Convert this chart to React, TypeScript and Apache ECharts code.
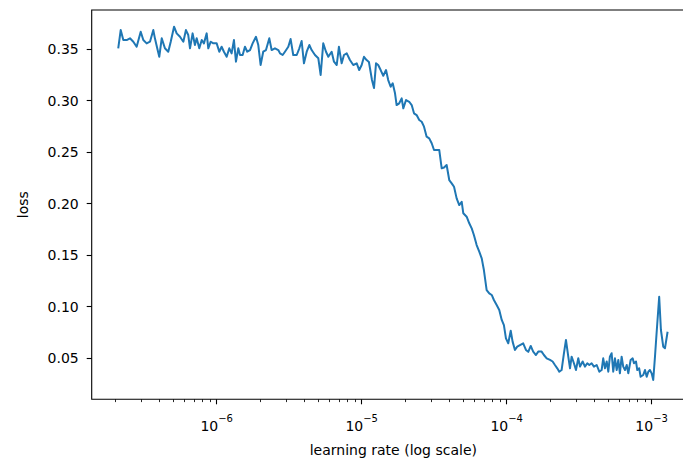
import React, { useEffect, useRef } from "react";
import * as echarts from "echarts";

// log10(learning rate)
const LOG10_LR = [
  -6.679, -6.662, -6.644, -6.621, -6.598, -6.575, -6.552, -6.524, -6.506, -6.483,
  -6.46, -6.437, -6.426, -6.41, -6.396, -6.379, -6.357, -6.334, -6.317, -6.294,
  -6.276, -6.253, -6.23, -6.212, -6.196, -6.184, -6.166, -6.15, -6.138, -6.12,
  -6.103, -6.088, -6.069, -6.058, -6.041, -6.023, -6.0, -5.982, -5.966, -5.95,
  -5.931, -5.913, -5.897, -5.881, -5.867, -5.851, -5.839, -5.821, -5.805, -5.789,
  -5.77, -5.752, -5.729, -5.713, -5.697, -5.679, -5.66, -5.637, -5.621, -5.598,
  -5.575, -5.563, -5.545, -5.529, -5.506, -5.49, -5.472, -5.448, -5.43, -5.414,
  -5.398, -5.379, -5.361, -5.345, -5.322, -5.299, -5.283, -5.265, -5.246, -5.23,
  -5.207, -5.191, -5.172, -5.157, -5.138, -5.122, -5.103, -5.081, -5.058, -5.034,
  -5.017, -5.0, -4.984, -4.966, -4.95, -4.929, -4.915, -4.901, -4.886, -4.869,
  -4.851, -4.832, -4.817, -4.8, -4.786, -4.77, -4.759, -4.741, -4.724, -4.713,
  -4.694, -4.672, -4.655, -4.639, -4.621, -4.603, -4.586, -4.57, -4.552, -4.534,
  -4.517, -4.501, -4.483, -4.465, -4.448, -4.432, -4.414, -4.396, -4.379, -4.363,
  -4.345, -4.327, -4.31, -4.299, -4.276, -4.258, -4.241, -4.226, -4.207, -4.189,
  -4.172, -4.157, -4.138, -4.12, -4.103, -4.088, -4.069, -4.051, -4.034, -4.019,
  -4.005, -3.989, -3.972, -3.959, -3.943, -3.927, -3.908, -3.886, -3.867, -3.851,
  -3.834, -3.817, -3.798, -3.782, -3.759, -3.743, -3.724, -3.701, -3.683, -3.667,
  -3.651, -3.637, -3.621, -3.605, -3.591, -3.575, -3.563, -3.552, -3.536, -3.522,
  -3.506, -3.494, -3.476, -3.46, -3.444, -3.43, -3.414, -3.398, -3.379, -3.361,
  -3.345, -3.334, -3.322, -3.31, -3.299, -3.288, -3.276, -3.265, -3.253, -3.241,
  -3.23, -3.219, -3.207, -3.196, -3.184, -3.172, -3.161, -3.145, -3.131, -3.122,
  -3.108, -3.099, -3.086, -3.076, -3.058, -3.046, -3.034, -3.023, -3.012, -3.0,
  -2.989, -2.977, -2.966, -2.948, -2.936, -2.92, -2.908, -2.89,
];

const LOSS = [
  0.3507, 0.3684, 0.3587, 0.3587, 0.3604, 0.3571, 0.3522, 0.3668, 0.3587, 0.3555,
  0.3571, 0.3684, 0.3604, 0.3507, 0.3425, 0.3604, 0.3507, 0.3474, 0.3571, 0.3717,
  0.3652, 0.3619, 0.3571, 0.3684, 0.3636, 0.3507, 0.3652, 0.3539, 0.3604, 0.3507,
  0.3587, 0.3555, 0.3652, 0.3507, 0.3571, 0.3555, 0.3555, 0.3474, 0.3522, 0.3474,
  0.3425, 0.3507, 0.3458, 0.3587, 0.3377, 0.3507, 0.3442, 0.3442, 0.3522, 0.3474,
  0.349, 0.3555, 0.3619, 0.3539, 0.3345, 0.3474, 0.349, 0.3604, 0.349, 0.3507,
  0.349, 0.3458, 0.3442, 0.3474, 0.3522, 0.3597, 0.3442, 0.3442, 0.3507, 0.3578,
  0.3361, 0.3474, 0.3539, 0.349, 0.3442, 0.341, 0.3248, 0.3555, 0.3474, 0.3425,
  0.3474, 0.3377, 0.3345, 0.3522, 0.3361, 0.3442, 0.3458, 0.3393, 0.3345, 0.3361,
  0.3296, 0.3345, 0.3425, 0.3393, 0.3374, 0.3199, 0.3121, 0.3361, 0.3345, 0.3296,
  0.324, 0.3296, 0.3199, 0.3134, 0.3167, 0.307, 0.2956, 0.2973, 0.3021, 0.2924,
  0.3005, 0.2988, 0.2956, 0.2876, 0.2859, 0.2811, 0.2794, 0.2746, 0.2649, 0.2633,
  0.2585, 0.252, 0.252, 0.252, 0.2342, 0.235, 0.2374, 0.2228, 0.2196, 0.2163,
  0.205, 0.1985, 0.2017, 0.1905, 0.1872, 0.1808, 0.1759, 0.1694, 0.1597, 0.1532,
  0.1468, 0.1354, 0.116, 0.1128, 0.1112, 0.1063, 0.1015, 0.0966, 0.087, 0.082,
  0.0691, 0.0643, 0.0765, 0.0659, 0.0578, 0.061, 0.0625, 0.0643, 0.0578, 0.056,
  0.0617, 0.0562, 0.0529, 0.0562, 0.0562, 0.0529, 0.0497, 0.0481, 0.0466, 0.0432,
  0.04, 0.0367, 0.0383, 0.0546, 0.0675, 0.0513, 0.04, 0.0513, 0.0449, 0.0383,
  0.0497, 0.0416, 0.0466, 0.0416, 0.0449, 0.0432, 0.0449, 0.0416, 0.0432, 0.0367,
  0.0383, 0.0497, 0.04, 0.0466, 0.0367, 0.0513, 0.0546, 0.0367, 0.0497, 0.0383,
  0.0481, 0.0351, 0.0513, 0.0416, 0.0383, 0.0432, 0.0351, 0.0481, 0.0497, 0.0449,
  0.0466, 0.0383, 0.04, 0.0318, 0.0335, 0.0383, 0.0318, 0.0367, 0.0383, 0.0351,
  0.0286, 0.0513, 0.074, 0.1095, 0.0772, 0.061, 0.0595, 0.0755,
];

const Y_TICKS = [0.05, 0.1, 0.15, 0.2, 0.25, 0.3, 0.35];
const X_DECADES = [-6, -5, -4, -3];
const MINOR_DECADES = [-7, -6, -5, -4];
const MINOR_MULTIPLIERS = [2, 3, 4, 5, 6, 7, 8, 9];

const X_MIN = -6.862;
const X_MAX = -2.701;
const Y_MIN = 0.0099;
const Y_MAX = 0.3879;

const FONT = "DejaVu Sans";

export default function App() {
  const ref = useRef<HTMLDivElement>(null);

  useEffect(() => {
    if (!ref.current) return;
    const chart = echarts.init(ref.current, null, { renderer: "svg" });

    const minorTicks: number[] = [];
    MINOR_DECADES.forEach((d) =>
      MINOR_MULTIPLIERS.forEach((m) => {
        const v = d + Math.log10(m);
        if (v > X_MIN && v < X_MAX) minorTicks.push(v);
      })
    );

    const data = LOG10_LR.map((x, i) => [x, LOSS[i]]);

    chart.setOption({
      animation: false,
      backgroundColor: "#ffffff",
      grid: {
        left: 91.7,
        right: 5,
        top: 10,
        bottom: 64.7,
        show: true,
        borderColor: "#000000",
        borderWidth: 1.1,
        backgroundColor: "transparent",
      },
      xAxis: [
        {
          type: "value",
          min: X_MIN,
          max: X_MAX,
          axisLine: { show: false },
          splitLine: { show: false },
          axisTick: {
            show: true,
            customValues: X_DECADES,
            length: 5,
            lineStyle: { color: "#000000", width: 1.1 },
          },
          axisLabel: {
            customValues: X_DECADES,
            margin: 14,
            color: "#000000",
            fontFamily: FONT,
            formatter: (v: number) =>
              `{a|10}{b|${v < 0 ? "\u2212" : ""}${Math.abs(Math.round(v))}}`,
            rich: {
              a: { fontSize: 14, fontFamily: FONT, color: "#000000", lineHeight: 20, verticalAlign: "bottom" },
              b: { fontSize: 10, fontFamily: FONT, color: "#000000", lineHeight: 10, verticalAlign: "top" },
            },
          },
          name: "learning rate (log scale)",
          nameLocation: "middle",
          nameGap: 44,
          nameTextStyle: { fontSize: 14, color: "#000000", fontFamily: FONT },
        },
        {
          type: "value",
          min: X_MIN,
          max: X_MAX,
          position: "bottom",
          axisLine: { show: false },
          splitLine: { show: false },
          axisLabel: { show: false },
          axisTick: {
            show: true,
            customValues: minorTicks,
            length: 2.8,
            lineStyle: { color: "#000000", width: 0.85 },
          },
        },
      ],
      yAxis: {
        type: "value",
        min: Y_MIN,
        max: Y_MAX,
        axisLine: { show: false },
        splitLine: { show: false },
        axisTick: {
          show: true,
          customValues: Y_TICKS,
          length: 5,
          lineStyle: { color: "#000000", width: 1.1 },
        },
        axisLabel: {
          customValues: Y_TICKS,
          margin: 13,
          fontSize: 14,
          color: "#000000",
          fontFamily: FONT,
          formatter: (v: number) => v.toFixed(2),
        },
        name: "loss",
        nameLocation: "middle",
        nameGap: 62,
        nameTextStyle: { fontSize: 14, color: "#000000", fontFamily: FONT },
      },
      series: [
        {
          type: "line",
          xAxisIndex: 0,
          data,
          showSymbol: false,
          symbol: "none",
          lineStyle: { color: "#1f77b4", width: 2, join: "round" },
          clip: true,
        },
      ],
    });

    return () => chart.dispose();
  }, []);

  return (
    <div
      ref={ref}
      style={{ position: "fixed", left: 0, top: 0, width: 700, height: 464, background: "#ffffff" }}
    />
  );
}
